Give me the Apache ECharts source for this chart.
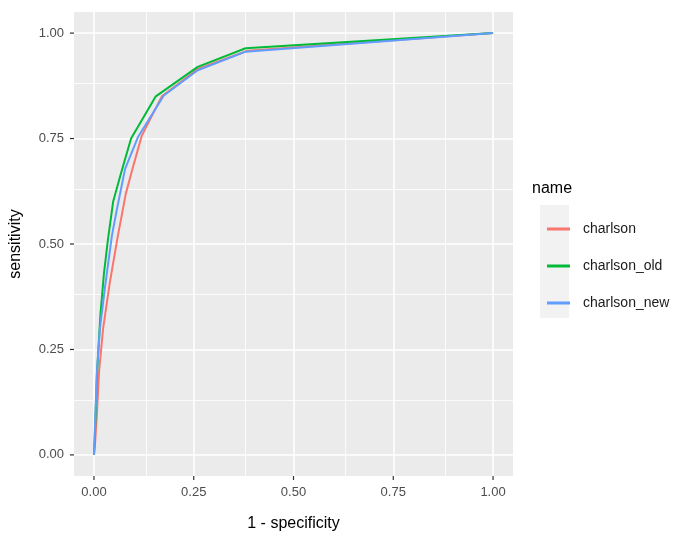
<!DOCTYPE html>
<html>
<head>
<meta charset="utf-8">
<script src="https://cdn.jsdelivr.net/npm/echarts@6/dist/echarts.min.js"></script>
<style>
html,body{margin:0;padding:0;background:#fff;}
#c{width:689px;height:537px;}
</style>
</head>
<body>
<div id="c"></div>
<script>
// ROC curve points [1 - specificity, sensitivity]
const charlson = [[0,0],[0.003,0.03],[0.007,0.09],[0.013,0.2],[0.023,0.3],[0.04,0.41],[0.06,0.52],[0.08,0.62],[0.1,0.69],[0.12,0.757],[0.17,0.85],[0.26,0.915],[0.385,0.958],[1,1]];
const charlson_old = [[0,0],[0.002,0.04],[0.008,0.2],[0.016,0.33],[0.025,0.43],[0.035,0.51],[0.048,0.6],[0.069,0.672],[0.093,0.75],[0.155,0.85],[0.26,0.92],[0.38,0.964],[1,1]];
const charlson_new = [[0,0],[0.002,0.05],[0.007,0.19],[0.015,0.3],[0.028,0.4],[0.045,0.52],[0.057,0.58],[0.078,0.678],[0.11,0.753],[0.175,0.852],[0.26,0.912],[0.38,0.956],[1,1]];
const majorTicks = [0, 0.25, 0.5, 0.75, 1];
const minorTicks = [0.125, 0.375, 0.625, 0.875];
const seriesNames = ['charlson', 'charlson_old', 'charlson_new'];
const colors = ['#F8766D', '#00BA38', '#619CFF'];
const AXIS_MIN = -0.05, AXIS_MAX = 1.05;

const FONT = '"Liberation Sans", Arial, sans-serif';
const chart = echarts.init(document.getElementById('c'), null, {renderer: 'canvas'});

function mkAxis(isX) {
  return {
    type: 'value',
    min: AXIS_MIN, max: AXIS_MAX,
    position: isX ? 'bottom' : 'left',
    name: isX ? '1 - specificity' : 'sensitivity',
    nameLocation: 'middle',
    nameGap: isX ? 40 : 50,
    nameTextStyle: {color: '#000', fontSize: 16, fontFamily: FONT},
    axisLine: {show: false, onZero: false},
    axisTick: {show: false, customValues: majorTicks},
    axisLabel: {show: true, customValues: majorTicks, color: '#4D4D4D', fontSize: 13, fontFamily: FONT, margin: 10,
      formatter: v => v.toFixed(2)},
    splitLine: {show: true, lineStyle: {color: '#FFFFFF', width: 1.6}},
    z: 3
  };
}

const minorLines = minorTicks.map(v => ({xAxis: v})).concat(minorTicks.map(v => ({yAxis: v})));
const legendBox = {id: 'keybg', type: 'rect', left: 540, top: 205, shape: {width: 29, height: 113}, style: {fill: '#F2F2F2'}, z: 0};

chart.setOption({
  animation: false,
  backgroundColor: '#FFFFFF',
  grid: {left: 74, right: 176, top: 12, bottom: 60, show: true, backgroundColor: '#EBEBEB', borderWidth: 0},
  title: {text: 'name', left: 527, top: 176, textStyle: {fontSize: 16, fontWeight: 'normal', color: '#000', fontFamily: FONT}},
  graphic: [legendBox],
  legend: {
    orient: 'vertical', left: 542, top: 216,
    itemWidth: 23, itemHeight: 3, itemGap: 21,
    icon: 'rect',
    data: seriesNames,
    textStyle: {fontSize: 14, color: '#1A1A1A', fontFamily: FONT, lineHeight: 16, padding: [0, 0, 0, 8]}
  },
  xAxis: mkAxis(true),
  yAxis: mkAxis(false),
  series: [{
    name: 'minorGrid', type: 'line', data: [], z: 1, silent: true,
    markLine: {silent: true, symbol: 'none', label: {show: false}, animation: false,
      lineStyle: {color: '#FFFFFF', width: 0.8, type: 'solid'}, data: minorLines}
  }].concat([charlson, charlson_old, charlson_new].map((d, i) => ({
    name: seriesNames[i], type: 'line', data: d, showSymbol: false, symbol: 'none',
    lineStyle: {color: colors[i], width: 2}, itemStyle: {color: colors[i]}, z: 5
  })))
});

// Tick marks placed through the library's own axis scales
const leftPx = chart.convertToPixel({xAxisIndex: 0}, AXIS_MIN);
const bottomPx = chart.convertToPixel({yAxisIndex: 0}, AXIS_MIN);
const tickLen = 4;
const ticks = [];
majorTicks.forEach((v, i) => {
  const x = chart.convertToPixel({xAxisIndex: 0}, v);
  const y = chart.convertToPixel({yAxisIndex: 0}, v);
  ticks.push({id: 'tx' + i, type: 'line', silent: true, z: 10,
    shape: {x1: x, y1: bottomPx, x2: x, y2: bottomPx + tickLen}, style: {stroke: '#333333', lineWidth: 1.2}});
  ticks.push({id: 'ty' + i, type: 'line', silent: true, z: 10,
    shape: {x1: leftPx - tickLen, y1: y, x2: leftPx, y2: y}, style: {stroke: '#333333', lineWidth: 1.2}});
});
chart.setOption({graphic: [legendBox].concat(ticks)});
</script>
</body>
</html>
